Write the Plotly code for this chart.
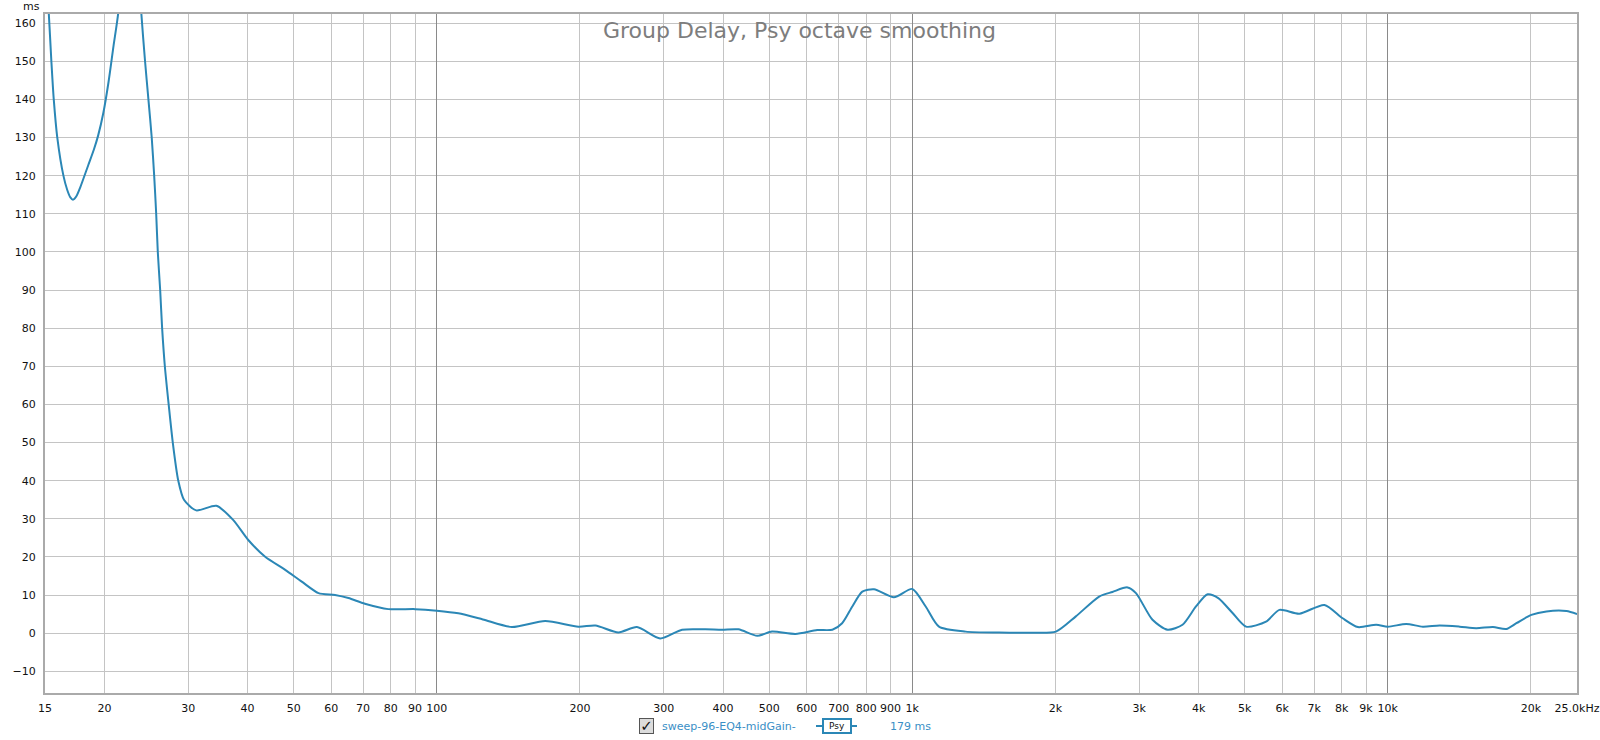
import plotly.graph_objects as go

# ---------------- data ----------------
freq_hz = [15, 15.28, 15.47, 15.65, 15.92, 16.4, 16.7, 16.96, 17.18, 17.46, 17.8, 18.5,
           19.0, 19.4, 19.9, 20.4, 20.9, 21.4, 22.0, 22.6, 23.3, 23.92, 24.35, 24.75, 25.15,
           25.45, 25.7, 25.9, 26.2, 26.45, 26.8, 27.3, 27.85, 28.6, 29.4, 31.2, 34.4, 37.3,
           40.1, 43.5, 48.0, 52.0, 56.4, 61.1, 65.2, 70.6, 79.1, 90.1, 100, 111, 125, 143.8,
           169, 198.6, 215.6, 241, 263.6, 295, 328, 367, 398, 431, 472, 507, 568, 631, 679,
           712, 748, 785, 831, 915, 1000, 1067, 1138, 1295, 1522, 1789, 2005, 2208, 2472,
           2636, 2835, 2954, 3200, 3443, 3701, 3950, 4180, 4400, 4700, 5035, 5546, 5916, 6518,
           7357, 8036, 8650, 9454, 10000, 10933, 11850, 12850, 14160, 15350, 16640, 17750,
           18640, 20040, 21560, 23750, 25000]
delay_ms = [178, 162.4, 150, 140, 130, 120, 116.3, 114.3, 113.7, 114.6, 117.0, 122.8,
            126.8, 130.5, 136.5, 144.5, 154, 163, 185, 200, 185, 162.4, 150, 140, 130,
            120, 110, 100, 90, 80, 70, 60, 50, 40, 35, 32.2, 33.4, 29.7,
            24.5, 20.1, 16.6, 13.5, 10.5, 10.0, 9.2, 7.7, 6.3, 6.3, 5.9, 5.2, 3.6, 1.6,
            3.2, 1.7, 2.0, 0.2, 1.6, -1.4, 0.9, 1.0, 0.9, 1.0, -0.7, 0.4, -0.2, 0.8, 0.9,
            2.6, 7.0, 10.9, 11.5, 9.4, 11.6, 7.0, 1.7, 0.4, 0.15, 0.1, 0.4, 4.4, 9.6,
            10.8, 12.0, 10.5, 3.5, 0.9, 2.2, 7.0, 10.2, 9.2, 5.5, 1.7, 3.0, 6.1, 5.1,
            7.4, 3.9, 1.6, 2.2, 1.7, 2.4, 1.7, 2.0, 1.7, 1.3, 1.6, 1.1,
            2.6, 4.8, 5.7, 5.8, 5.0]

x_tickvals = [15, 20, 30, 40, 50, 60, 70, 80, 90, 100, 200, 300, 400, 500, 600, 700, 800, 900,
              1000, 2000, 3000, 4000, 5000, 6000, 7000, 8000, 9000, 10000, 20000, 25000]
x_ticktext = ["15", "20", "30", "40", "50", "60", "70", "80", "90", "100", "200", "300", "400",
              "500", "600", "700", "800", "900", "1k", "2k", "3k", "4k", "5k", "6k", "7k", "8k",
              "9k", "10k", "20k", "25.0kHz"]
x_major = [100, 1000, 10000]
y_tickvals = list(range(-10, 161, 10))

title_text = "Group Delay, Psy octave smoothing"
legend_name = "sweep-96-EQ4-midGain-"
legend_value = "179 ms"

# ---------------- layout constants ----------------
W, H = 1600, 740
L, R, T, B = 45, 23, 14, 47
PW, PH = W - L - R, H - T - B
xr = [1.1761, 4.3979]
yr = [-15.7, 162.4]
LINE = "#2b87b6"
FONT = "DejaVu Sans"


def px(xp):
    return (xp - L) / PW


def py(yp):
    return (H - B - yp) / PH


fig = go.Figure()
fig.add_trace(go.Scatter(x=freq_hz, y=delay_ms, mode="lines",
                         line=dict(color=LINE, width=2, shape="spline", smoothing=0.7),
                         hoverinfo="skip", showlegend=False))
fig.add_trace(go.Scatter(x=[], y=[], xaxis="x2", showlegend=False))

fig.update_layout(
    width=W, height=H,
    margin=dict(l=L, r=R, t=T, b=B, pad=0, autoexpand=False),
    paper_bgcolor="white", plot_bgcolor="white",
    font=dict(family=FONT, size=11, color="#111111"),
    xaxis=dict(type="log", range=xr, tickvals=x_tickvals, ticktext=x_ticktext,
               showgrid=True, gridcolor="#c4c4c4", gridwidth=1, zeroline=False,
               showline=True, mirror=True, linecolor="#aaaaaa", linewidth=2,
               ticks="", ticklabelstandoff=4, automargin=False,
               tickfont=dict(size=11, family=FONT)),
    xaxis2=dict(type="log", range=xr, overlaying="x", anchor="y", tickvals=x_major,
                showgrid=True, gridcolor="#8a8a8a", gridwidth=1, showticklabels=False,
                zeroline=False, showline=False, ticks="", automargin=False),
    yaxis=dict(range=yr, tickvals=y_tickvals, showgrid=True, gridcolor="#c4c4c4",
               gridwidth=1, zeroline=False, showline=True, mirror=True,
               linecolor="#aaaaaa", linewidth=2, ticks="", ticklabelstandoff=5,
               automargin=False, tickfont=dict(size=11, family=FONT)),
)

ann = []
ann.append(dict(x=px(799), y=py(30), xref="paper", yref="paper", text=title_text,
                showarrow=False, font=dict(family=FONT, size=22, color="#7d7d7d"),
                xanchor="center", yanchor="middle"))
ann.append(dict(x=px(31), y=py(6), xref="paper", yref="paper", text="ms",
                showarrow=False, font=dict(family=FONT, size=11, color="#111111"),
                xanchor="center", yanchor="middle"))
# legend row
ann.append(dict(x=px(646), y=py(726), xref="paper", yref="paper", text="<b>✓</b>",
                showarrow=False, font=dict(family=FONT, size=15, color="#111111"),
                bgcolor="#dcdcdc", bordercolor="#555555", borderwidth=1, borderpad=0,
                width=13, height=14, xanchor="center", yanchor="middle"))
ann.append(dict(x=px(660), y=py(726), xref="paper", yref="paper", text=legend_name,
                showarrow=False, font=dict(family=FONT, size=11, color="#3a8fc6"),
                xanchor="left", yanchor="middle"))
fig.add_shape(type="line", xref="paper", yref="paper", x0=px(816), x1=px(857),
              y0=py(726), y1=py(726), line=dict(color=LINE, width=2))
ann.append(dict(x=px(837), y=py(726), xref="paper", yref="paper", text="Psy",
                showarrow=False, font=dict(family=FONT, size=9, color="#111111"),
                bgcolor="white", bordercolor=LINE, borderwidth=2, borderpad=1,
                width=24, xanchor="center", yanchor="middle"))
ann.append(dict(x=px(888), y=py(726), xref="paper", yref="paper", text=legend_value,
                showarrow=False, font=dict(family=FONT, size=11, color="#3a8fc6"),
                xanchor="left", yanchor="middle"))
fig.update_layout(annotations=ann)

fig.write_html("out.html", config={"displayModeBar": False},
               post_script="document.body.style.margin='0';document.body.style.overflow='hidden';")
